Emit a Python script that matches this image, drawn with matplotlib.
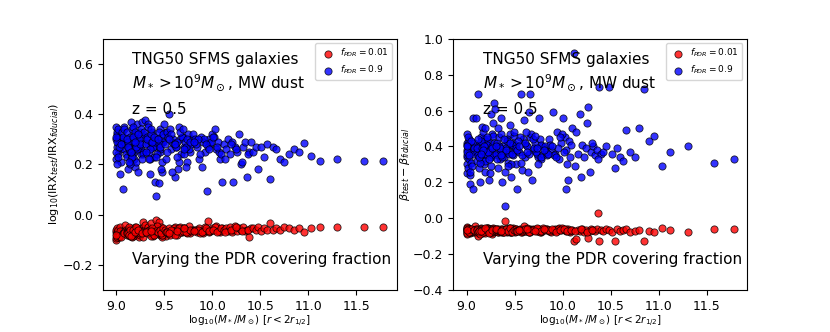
import numpy as np
import matplotlib
matplotlib.use("Agg")
import matplotlib.pyplot as plt

# stellar mass of each galaxy, log10(M*/Msun)
logm = [
    9.00, 9.01, 9.00, 9.02, 9.01, 9.03, 9.00, 9.02, 9.04, 9.01,
    9.03, 9.05, 9.00, 9.02, 9.06, 9.01, 9.04, 9.07, 9.03, 9.05,
    9.08, 9.02, 9.06, 9.09, 9.01, 9.04, 9.07, 9.10, 9.03, 9.08,
    9.15, 9.35, 9.05, 9.45, 9.22, 9.58, 9.28, 9.62, 9.11, 9.40,
    9.18, 9.52, 9.33, 9.00, 9.26, 9.48, 9.74, 9.08, 9.66, 9.38,
    9.11, 9.12, 9.13, 9.14, 9.15, 9.16, 9.17, 9.18, 9.19, 9.20,
    9.12, 9.14, 9.16, 9.18, 9.21, 9.22, 9.23, 9.24, 9.25, 9.26,
    9.11, 9.13, 9.15, 9.17, 9.19, 9.21, 9.23, 9.25, 9.27, 9.28,
    9.29, 9.30, 9.12, 9.16, 9.20, 9.24, 9.28, 9.14, 9.18, 9.22,
    9.26, 9.13, 9.17, 9.21, 9.25, 9.29, 9.15, 9.19, 9.23, 9.27,
    9.31, 9.32, 9.33, 9.34, 9.35, 9.36, 9.37, 9.38, 9.39, 9.40,
    9.41, 9.42, 9.43, 9.44, 9.45, 9.46, 9.47, 9.48, 9.49, 9.50,
    9.32, 9.34, 9.36, 9.38, 9.40, 9.42, 9.44, 9.46, 9.48, 9.33,
    9.35, 9.37, 9.39, 9.41, 9.43, 9.45, 9.47, 9.49, 9.31, 9.36,
    9.51, 9.53, 9.55, 9.57, 9.59, 9.61, 9.63, 9.65, 9.67, 9.69,
    9.71, 9.73, 9.75, 9.77, 9.79, 9.52, 9.56, 9.60, 9.64, 9.68,
    9.72, 9.76, 9.54, 9.58, 9.62, 9.66, 9.70, 9.74, 9.78, 9.80,
    9.53, 9.57, 9.61, 9.65, 9.69, 9.73, 9.77, 9.55, 9.63, 9.71,
    9.82, 9.84, 9.86, 9.88, 9.90, 9.92, 9.94, 9.96, 9.98, 10.00,
    10.02, 10.04, 10.06, 10.08, 10.10, 9.83, 9.87, 9.91, 9.95, 9.99,
    10.03, 10.07, 9.85, 9.89, 9.93, 9.97, 10.01, 10.05, 10.09, 9.81,
    10.12, 10.14, 10.16, 10.18, 10.20, 10.22, 10.24, 10.26, 10.28, 10.30,
    10.32, 10.34, 10.36, 10.38, 10.40, 10.13, 10.19, 10.25, 10.31, 10.37,
    10.42, 10.45, 10.48, 10.51, 10.54, 10.57, 10.60, 10.63, 10.66, 10.70,
    10.75, 10.80, 10.85, 10.90, 10.95, 11.03, 11.12, 11.30, 11.58, 11.78,
]

# log10(IRX_test/IRX_fiducial), f_PDR = 0.9
irx_hi = [
    0.30, 0.27, 0.35, 0.24, 0.32, 0.29, 0.22, 0.31, 0.26, 0.33,
    0.28, 0.21, 0.25, 0.34, 0.30, 0.20, 0.27, 0.10, 0.31, 0.29,
    0.26, 0.23, 0.33, 0.28, 0.29, 0.16, 0.31, 0.24, 0.27, 0.35,
    0.30, 0.22, 0.28, 0.25, 0.36, 0.29, 0.32, 0.27, 0.23, 0.30,
    0.25, 0.33, 0.28, 0.31, 0.26, 0.29, 0.21, 0.34, 0.30, 0.27,
    0.33, 0.18, 0.28, 0.31, 0.37, 0.24, 0.30, 0.26, 0.19, 0.32,
    0.29, 0.25, 0.34, 0.22, 0.28, 0.31, 0.17, 0.27, 0.33, 0.24,
    0.30, 0.26, 0.22, 0.35, 0.28, 0.21, 0.32, 0.29, 0.37, 0.25,
    0.31, 0.375, 0.27, 0.23, 0.33, 0.30, 0.24, 0.20, 0.29, 0.26,
    0.34, 0.21, 0.31, 0.27, 0.28, 0.33, 0.25, 0.29, 0.32, 0.22,
    0.28, 0.31, 0.36, 0.25, 0.16, 0.29, 0.33, 0.27, 0.23, 0.13,
    0.075, 0.30, 0.28, 0.125, 0.34, 0.26, 0.31, 0.17, 0.29, 0.36,
    0.30, 0.22, 0.32, 0.27, 0.29, 0.24, 0.33, 0.28, 0.21, 0.35,
    0.26, 0.29, 0.31, 0.23, 0.30, 0.27, 0.18, 0.32, 0.25, 0.34,
    0.28, 0.33, 0.40, 0.26, 0.30, 0.15, 0.29, 0.35, 0.24, 0.31,
    0.27, 0.19, 0.32, 0.25, 0.30, 0.22, 0.34, 0.28, 0.18, 0.31,
    0.29, 0.26, 0.31, 0.17, 0.27, 0.33, 0.24, 0.30, 0.28, 0.32,
    0.25, 0.32, 0.28, 0.21, 0.34, 0.27, 0.29, 0.30, 0.23, 0.26,
    0.30, 0.27, 0.22, 0.31, 0.29, 0.25, 0.095, 0.30, 0.28, 0.32,
    0.31, 0.26, 0.29, 0.22, 0.13, 0.28, 0.24, 0.30, 0.27, 0.29,
    0.34, 0.25, 0.30, 0.19, 0.28, 0.26, 0.31, 0.27, 0.24, 0.29,
    0.28, 0.26, 0.30, 0.24, 0.29, 0.13, 0.27, 0.25, 0.32, 0.20,
    0.27, 0.29, 0.15, 0.25, 0.29, 0.22, 0.28, 0.26, 0.21, 0.24,
    0.25, 0.27, 0.18, 0.27, 0.23, 0.28, 0.14, 0.27, 0.26, 0.22,
    0.21, 0.24, 0.26, 0.25, 0.285, 0.235, 0.213, 0.223, 0.212, 0.213,
]

# log10(IRX_test/IRX_fiducial), f_PDR = 0.01
irx_lo = [
    -0.07, -0.08, -0.06, -0.09, -0.075, -0.065, -0.10, -0.07, -0.085, -0.055,
    -0.08, -0.07, -0.095, -0.06, -0.075, -0.085, -0.05, -0.065, -0.09, -0.07,
    -0.06, -0.08, -0.07, -0.04, -0.09, -0.065, -0.075, -0.06, -0.085, -0.07,
    -0.075, -0.065, -0.09, -0.08, -0.055, -0.07, -0.03, -0.06, -0.08, -0.075,
    -0.065, -0.085, -0.07, -0.08, -0.06, -0.09, -0.07, -0.075, -0.05, -0.085,
    -0.07, -0.06, -0.08, -0.055, -0.075, -0.09, -0.065, -0.07, -0.05, -0.08,
    -0.065, -0.085, -0.06, -0.075, -0.07, -0.055, -0.08, -0.09, -0.065, -0.07,
    -0.075, -0.05, -0.07, -0.085, -0.06, -0.075, -0.065, -0.08, -0.055, -0.07,
    -0.06, -0.04, -0.075, -0.08, -0.065, -0.07, -0.09, -0.06, -0.075, -0.055,
    -0.07, -0.08, -0.06, -0.05, -0.075, -0.065, -0.085, -0.07, -0.06, -0.075,
    -0.065, -0.07, -0.05, -0.075, -0.06, -0.035, -0.08, -0.065, -0.07, -0.055,
    -0.02, -0.06, -0.075, -0.03, -0.065, -0.07, -0.05, -0.08, -0.06, -0.07,
    -0.075, -0.06, -0.085, -0.065, -0.07, -0.045, -0.075, -0.06, -0.08, -0.065,
    -0.07, -0.055, -0.08, -0.065, -0.07, -0.06, -0.075, -0.055, -0.07, -0.065,
    -0.06, -0.07, -0.055, -0.075, -0.065, -0.05, -0.08, -0.06, -0.07, -0.065,
    -0.055, -0.07, -0.065, -0.075, -0.06, -0.07, -0.08, -0.055, -0.065, -0.07,
    -0.06, -0.045, -0.075, -0.065, -0.06, -0.07, -0.055, -0.075, -0.065, -0.06,
    -0.07, -0.06, -0.08, -0.055, -0.065, -0.07, -0.06, -0.075, -0.065, -0.055,
    -0.06, -0.07, -0.055, -0.065, -0.075, -0.05, -0.06, -0.07, -0.065, -0.055,
    -0.06, -0.045, -0.065, -0.07, -0.055, -0.06, -0.075, -0.065, -0.025, -0.06,
    -0.05, -0.065, -0.06, -0.07, -0.055, -0.065, -0.06, -0.07, -0.055, -0.065,
    -0.06, -0.055, -0.065, -0.05, -0.07, -0.06, -0.045, -0.065, -0.055, -0.06,
    -0.05, -0.065, -0.06, -0.09, -0.055, -0.07, -0.06, -0.05, -0.065, -0.06,
    -0.055, -0.06, -0.05, -0.065, -0.055, -0.06, -0.035, -0.06, -0.055, -0.06,
    -0.05, -0.055, -0.06, -0.055, -0.068, -0.055, -0.048, -0.05, -0.05, -0.05,
]

# beta_test - beta_fiducial, f_PDR = 0.9
beta_hi = [
    0.38, 0.42, 0.30, 0.36, 0.25, 0.44, 0.34, 0.40, 0.19, 0.47,
    0.33, 0.39, 0.41, 0.28, 0.37, 0.35, 0.24, 0.16, 0.43, 0.31,
    0.36, 0.45, 0.29, 0.40, 0.37, 0.26, 0.56, 0.56, 0.35, 0.42,
    0.38, 0.33, 0.43, 0.47, 0.39, 0.27, 0.36, 0.41, 0.32, 0.37,
    0.44, 0.30, 0.35, 0.40, 0.38, 0.42, 0.34, 0.39, 0.45, 0.36,
    0.37, 0.69, 0.41, 0.20, 0.45, 0.33, 0.48, 0.38, 0.26, 0.43,
    0.35, 0.40, 0.51, 0.30, 0.44, 0.37, 0.21, 0.42, 0.34, 0.47,
    0.39, 0.28, 0.43, 0.36, 0.32, 0.41, 0.38, 0.58, 0.35, 0.46,
    0.64, 0.61, 0.44, 0.39, 0.36, 0.25, 0.53, 0.31, 0.40, 0.37,
    0.40, 0.34, 0.38, 0.45, 0.29, 0.42, 0.36, 0.50, 0.33, 0.39,
    0.36, 0.42, 0.28, 0.45, 0.38, 0.56, 0.20, 0.40, 0.34, 0.07,
    0.39, 0.44, 0.31, 0.37, 0.52, 0.23, 0.41, 0.35, 0.46, 0.38,
    0.33, 0.40, 0.47, 0.37, 0.26, 0.43, 0.36, 0.30, 0.41, 0.50,
    0.39, 0.34, 0.44, 0.38, 0.29, 0.42, 0.36, 0.48, 0.40, 0.35,
    0.41, 0.16, 0.37, 0.69, 0.44, 0.34, 0.40, 0.59, 0.47, 0.38,
    0.42, 0.36, 0.56, 0.33, 0.40, 0.39, 0.45, 0.55, 0.26, 0.21,
    0.37, 0.44, 0.43, 0.35, 0.48, 0.69, 0.39, 0.30, 0.41, 0.36,
    0.38, 0.31, 0.42, 0.36, 0.44, 0.39, 0.34, 0.40, 0.37, 0.46,
    0.40, 0.35, 0.44, 0.38, 0.59, 0.36, 0.48, 0.33, 0.42, 0.56,
    0.45, 0.16, 0.21, 0.34, 0.50, 0.37, 0.41, 0.35, 0.39, 0.47,
    0.38, 0.43, 0.36, 0.40, 0.34, 0.45, 0.37, 0.30, 0.41, 0.38,
    0.92, 0.48, 0.36, 0.58, 0.41, 0.34, 0.39, 0.62, 0.26, 0.37,
    0.40, 0.35, 0.38, 0.73, 0.36, 0.29, 0.23, 0.53, 0.42, 0.33,
    0.37, 0.40, 0.73, 0.36, 0.28, 0.39, 0.34, 0.32, 0.49, 0.37,
    0.34, 0.50, 0.72, 0.43, 0.46, 0.29, 0.37, 0.40, 0.31, 0.33,
]

# beta_test - beta_fiducial, f_PDR = 0.01
beta_lo = [
    -0.06, -0.07, -0.08, -0.055, -0.065, -0.075, -0.05, -0.07, -0.085, -0.06,
    -0.07, -0.06, -0.09, -0.065, -0.075, -0.055, -0.08, -0.07, -0.06, -0.065,
    -0.075, -0.06, -0.07, -0.045, -0.085, -0.065, -0.07, -0.06, -0.08, -0.065,
    -0.065, -0.07, -0.06, -0.08, -0.055, -0.075, -0.065, -0.07, -0.085, -0.06,
    -0.07, -0.06, -0.075, -0.065, -0.08, -0.055, -0.07, -0.065, -0.06, -0.075,
    -0.06, -0.10, -0.07, -0.065, -0.055, -0.08, -0.06, -0.075, -0.065, -0.07,
    -0.075, -0.06, -0.085, -0.07, -0.055, -0.065, -0.08, -0.06, -0.07, -0.09,
    -0.065, -0.07, -0.06, -0.075, -0.085, -0.055, -0.07, -0.065, -0.06, -0.075,
    -0.07, -0.06, -0.08, -0.065, -0.07, -0.075, -0.055, -0.09, -0.065, -0.06,
    -0.06, -0.07, -0.075, -0.065, -0.08, -0.06, -0.07, -0.055, -0.085, -0.065,
    -0.07, -0.06, -0.075, -0.065, -0.07, -0.08, -0.06, -0.07, -0.065, -0.015,
    -0.06, -0.075, -0.065, -0.07, -0.055, -0.08, -0.065, -0.06, -0.07, -0.075,
    -0.065, -0.07, -0.06, -0.08, -0.065, -0.07, -0.055, -0.075, -0.065, -0.06,
    -0.07, -0.065, -0.08, -0.06, -0.07, -0.055, -0.075, -0.065, -0.06, -0.07,
    -0.06, -0.07, -0.065, -0.075, -0.06, -0.07, -0.055, -0.08, -0.065, -0.06,
    -0.065, -0.07, -0.06, -0.075, -0.065, -0.07, -0.06, -0.045, -0.07, -0.065,
    -0.06, -0.075, -0.065, -0.07, -0.06, -0.08, -0.065, -0.06, -0.07, -0.055,
    -0.07, -0.065, -0.06, -0.075, -0.065, -0.055, -0.07, -0.065, -0.06, -0.07,
    -0.065, -0.06, -0.07, -0.075, -0.065, -0.06, -0.07, -0.055, -0.065, -0.06,
    -0.065, -0.07, -0.06, -0.075, -0.065, -0.06, -0.07, -0.065, -0.06, -0.055,
    -0.06, -0.07, -0.065, -0.06, -0.075, -0.065, -0.06, -0.07, -0.065, -0.06,
    -0.13, -0.115, -0.065, -0.07, -0.06, -0.075, -0.065, -0.11, -0.07, -0.06,
    -0.065, -0.07, -0.06, -0.13, -0.065, -0.07, -0.06, -0.075, -0.065, 0.03,
    -0.07, -0.06, -0.065, -0.075, -0.13, -0.06, -0.07, -0.065, -0.06, -0.08,
    -0.07, -0.065, -0.125, -0.07, -0.08, -0.055, -0.065, -0.075, -0.058, -0.06,
]

labels = [r'$f_{PDR} = 0.01$', r'$f_{PDR} = 0.9$']

fig = plt.figure(figsize=(8.3, 3.32), dpi=100)
ax1 = fig.add_axes([0.124, 0.127, 0.354, 0.756])
ax2 = fig.add_axes([0.546, 0.127, 0.354, 0.756])

panels = [
    (ax1, irx_lo, irx_hi, (-0.3, 0.7), r'log$_{10}$(IRX$_{test}$/IRX$_{fiducial}$)'),
    (ax2, beta_lo, beta_hi, (-0.4, 1.0), r'$\beta_{test} - \beta_{fiducial}$'),
]

for ax, lo, hi, ylim, ylab in panels:
    ax.scatter(logm, lo, s=27, c='r', edgecolors='k', linewidths=0.6, alpha=0.8, label=labels[0])
    ax.scatter(logm, hi, s=27, c='b', edgecolors='k', linewidths=0.6, alpha=0.8, label=labels[1])
    ax.set_ylim(ylim)
    ax.set_xticks([9.0, 9.5, 10.0, 10.5, 11.0, 11.5])
    ax.tick_params(labelsize=9)
    ax.set_xlabel(r'log$_{10}$($M_*$/$M_\odot$) [$r < 2r_{1/2}$]', fontsize=7.5, labelpad=1)
    ax.set_ylabel(ylab, fontsize=8, labelpad=1)
    ax.legend(loc='upper right', fontsize=6.5, scatterpoints=1, handletextpad=0.3)
    ax.text(0.10, 0.916, 'TNG50 SFMS galaxies', transform=ax.transAxes, fontsize=11, va='center')
    ax.text(0.10, 0.825, r'$M_* > 10^9 M_\odot$, MW dust', transform=ax.transAxes, fontsize=11, va='center')
    ax.text(0.10, 0.717, 'z = 0.5', transform=ax.transAxes, fontsize=11, va='center')
    ax.text(0.10, 0.12, 'Varying the PDR covering fraction', transform=ax.transAxes, fontsize=11, va='center')

fig.savefig('out.png', dpi=100)
